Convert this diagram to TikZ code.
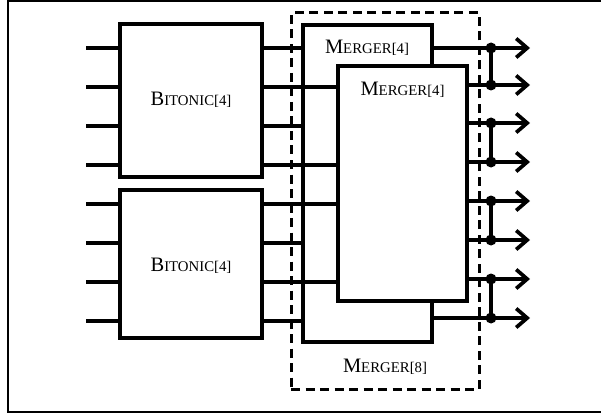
\documentclass[tikz,border=0pt]{standalone}
\usepackage{fontspec}
\setmainfont{Liberation Serif}
\usetikzlibrary{arrows.meta}
\newcommand{\fakesc}[2]{{\fontsize{20.5}{20.5}\selectfont #1}{\fontsize{14.8}{14.8}\selectfont #2}}
\tikzset{
  blk/.style={draw, line width=3.1pt, fill=white, minimum width=#1, inner sep=0pt},
  wire/.style={line width=3.7pt},
  outarr/.style={line width=3.7pt, -{Straight Barb[length=11pt,width=19pt]}},
  dotst/.style={circle, fill=black, inner sep=0pt, minimum size=11pt},
  lbl/.style={inner sep=0pt, text=black},
  dashbox/.style={draw, line width=3pt, dash pattern=on 9pt off 5.5pt},
  frameln/.style={line width=1.6pt}
}
\begin{document}
\begin{tikzpicture}[x=1pt,y=-1pt]
\useasboundingbox (0,0) rectangle (601,414);
% outer frame
\coordinate (fA) at (8,412);
\coordinate (fB) at (8,0.8);
\coordinate (fC) at (601,0.8);
\coordinate (fD) at (601,412);
\draw[frameln] (fC) -- (fB) -- (fA) -- (fD);

% rows
\foreach \i/\y in {1/48,2/87,3/126,4/165,5/204,6/243,7/282,8/321}{
  \coordinate (r\i) at (0,\y);
  \coordinate (in\i) at (86,\y);
}
\foreach \i/\y in {1/48,2/85,3/123,4/162,5/201,6/240,7/279,8/318}{
  \coordinate (o\i) at (0,\y);
  \coordinate (tip\i) at (530,\y);
}

% bitonic boxes
\node[blk=142pt, minimum height=153pt] (bitA) at (191,100.5) {};
\node[blk=142pt, minimum height=148pt] (bitB) at (191,264) {};
\node[lbl] (tA) at (191,100) {\fakesc{B}{ITONIC[4]}};
\node[lbl] (tB) at (191,266) {\fakesc{B}{ITONIC[4]}};

% inputs
\foreach \i in {1,2,3,4}{ \draw[wire] (in\i) -- (bitA.west |- in\i); }
\foreach \i in {5,6,7,8}{ \draw[wire] (in\i) -- (bitB.west |- in\i); }

% back merger
\node[blk=129pt, minimum height=317pt] (M1) at (367.5,183.5) {};
\node[lbl] (tM1) at (367,48) {\fakesc{M}{ERGER[4]}};

% wires into mergers
\draw[wire] (bitA.east |- r1) -- (M1.west |- r1);
\draw[wire] (bitA.east |- r3) -- (M1.west |- r3);
\draw[wire] (bitB.east |- r6) -- (M1.west |- r6);
\draw[wire] (bitB.east |- r8) -- (M1.west |- r8);
\coordinate (m2w) at (338,0);
\draw[wire] (bitA.east |- r2) -- (m2w |- r2);
\draw[wire] (bitA.east |- r4) -- (m2w |- r4);
\draw[wire] (bitB.east |- r5) -- (m2w |- r5);
\draw[wire] (bitB.east |- r7) -- (m2w |- r7);

% front merger
\node[blk=129pt, minimum height=235pt] (M2) at (402.5,183.5) {};
\node[lbl] (tM2) at (402.5,90) {\fakesc{M}{ERGER[4]}};

% outputs
\draw[outarr] (M1.east |- o1) -- (tip1);
\draw[outarr] (M1.east |- o8) -- (tip8);
\foreach \i in {2,...,7}{ \draw[outarr] (M2.east |- o\i) -- (tip\i); }

% dots and comparators
\foreach \i in {1,...,8}{ \node[dotst] (d\i) at (491,0 |- o\i) {}; }
\foreach \a/\b in {1/2,3/4,5/6,7/8}{ \draw[wire] (d\a.center) -- (d\b.center); }

% dashed Merger[8]
\node[dashbox, minimum width=188pt, minimum height=376pt, inner sep=0pt] (D) at (385,201) {};
\node[lbl] (tD) at (385,367) {\fakesc{M}{ERGER[8]}};
\end{tikzpicture}
\end{document}
